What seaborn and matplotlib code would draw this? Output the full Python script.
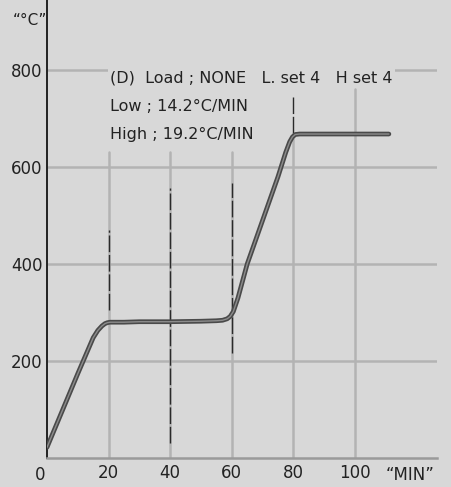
import matplotlib
matplotlib.use("Agg")
import matplotlib.pyplot as plt
import seaborn as sns
import pandas as pd

# ---- data ----
time_min = [0, 5, 10, 15, 16.5, 17.8, 18.8, 19.6, 20.5, 22, 25, 30, 40, 50, 55, 57, 58.5, 59.5,
            60.5, 62, 65, 70, 75, 77.5, 78.8, 79.7, 80.6, 82, 90, 100, 111]
temp_c = [22, 98, 174, 248, 263, 272, 277, 279, 280, 280, 280, 281, 281, 282, 283, 284, 287, 292,
          302, 330, 400, 490, 580, 630, 652, 662, 667, 668, 668, 668, 668]

x_ticks = [20, 40, 60, 80, 100]
x_tick_labels = ["20", "40", "60", "80", "100"]
y_ticks = [200, 400, 600, 800]
y_tick_labels = ["200", "400", "600", "800"]

marker_x = [20, 40, 60, 80]
marker_ymin = [305, 31, 216, 670]
marker_ymax = [470, 557, 567, 744]

title_lines = ["(D)  Load ; NONE   L. set 4   H set 4",
               "Low ; 14.2\u00b0C/MIN",
               "High ; 19.2\u00b0C/MIN"]

BG = "#d8d8d8"
GRID = "#b3b3b3"
FONT = "DejaVu Sans"

sns.set_style("white")
plt.rcParams["font.family"] = [FONT]

fig = plt.figure(figsize=(4.52, 4.87), dpi=100, facecolor=BG)
W, H = 452, 487
ax = fig.add_axes([47 / W, 29 / H, 390 / W, 458 / H])
ax.set_facecolor(BG)
ax.set_xlim(0, 390 / 3.08)
ax.set_ylim(0, 458 / 0.485)

# grid
for yv in y_ticks:
    ax.axhline(yv, color=GRID, lw=1.8, zorder=1)
grid_tops = [630, 630, 630, 668, 760]
for xv, top in zip(x_ticks, grid_tops):
    ax.plot([xv, xv], [0, top], color=GRID, lw=1.8, zorder=1)

# dashed markers
ax.vlines(marker_x, marker_ymin, marker_ymax, colors="#2a2a2a", lw=1.0,
          linestyles=(0, (12, 2)), zorder=2)

df = pd.DataFrame({"time": time_min, "temp": temp_c})
sns.lineplot(data=df, x="time", y="temp", ax=ax, color="#4a4a4a", lw=3.4,
             sort=False, zorder=4)
sns.lineplot(data=df, x="time", y="temp", ax=ax, color="#8c8c8c", lw=1.0,
             sort=False, zorder=5)

# spines
for s in ["top", "right"]:
    ax.spines[s].set_visible(False)
ax.spines["left"].set_color("#222222")
ax.spines["left"].set_linewidth(1.4)
ax.spines["bottom"].set_color("#9a9a9a")
ax.spines["bottom"].set_linewidth(1.8)

ax.set_xticks(x_ticks)
ax.set_xticklabels(x_tick_labels)
ax.set_yticks(y_ticks)
ax.set_yticklabels(y_tick_labels)
ax.tick_params(axis="both", length=0, labelsize=12, colors="#222222")
ax.tick_params(axis="x", pad=4)
ax.tick_params(axis="y", pad=3)
ax.set_xlabel("")
ax.set_ylabel("")

ax.text(-2.3, -16, "0", ha="center", va="top", fontsize=12, color="#222222")
ax.text(118, -16, "\u201cMIN\u201d", ha="center", va="top", fontsize=12, color="#222222")
ax.text(-5.5, 903, "\u201c\u00b0C\u201d", ha="center", va="center", fontsize=11, color="#222222")

ty = [783, 724, 668]
for line, yv in zip(title_lines, ty):
    ax.text(20.5, yv, line, ha="left", va="center", fontsize=11.5, color="#222222",
            zorder=6, bbox=dict(facecolor=BG, edgecolor="none", pad=1.5))

fig.savefig("out.png", dpi=100, facecolor=BG)
